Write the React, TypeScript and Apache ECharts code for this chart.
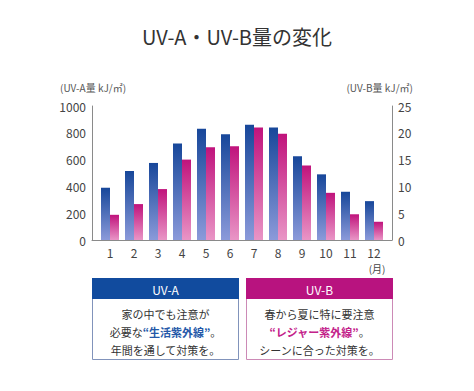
import React, { useEffect, useRef } from "react";
import * as echarts from "echarts";

const months = ["1", "2", "3", "4", "5", "6", "7", "8", "9", "10", "11", "12"];
const uvA = [390, 515, 575, 720, 830, 790, 860, 840, 625, 490, 360, 290];
const uvB = [4.7, 6.7, 9.5, 15.0, 17.3, 17.5, 21.0, 19.8, 13.9, 8.8, 4.8, 3.4];
const leftTicks = { min: 0, max: 1000, interval: 200 };
const rightTicks = { min: 0, max: 25, interval: 5 };

const FONT = "'Noto Sans CJK JP', 'Noto Sans', sans-serif";

export default function App() {
  const ref = useRef<HTMLDivElement>(null);
  useEffect(() => {
    if (!ref.current) return;
    const chart = echarts.init(ref.current, null, { renderer: "svg" });
    const axisLine = { show: true, lineStyle: { color: "#8a8a8a", width: 1 } };
    const axisLabel = { color: "#444", fontSize: 12, fontFamily: FONT };
    const blueGrad = new echarts.graphic.LinearGradient(0, 0, 0, 1, [
      { offset: 0, color: "#17479a" },
      { offset: 1, color: "#8b9ada" },
    ]);
    const pinkGrad = new echarts.graphic.LinearGradient(0, 0, 0, 1, [
      { offset: 0, color: "#c0137c" },
      { offset: 1, color: "#e995c6" },
    ]);
    const blue = "#114b9e";
    const pink = "#b8137f";
    const bodyStyle = (text: string, key: string, color: string) => ({
      text,
      fontSize: 11,
      lineHeight: 18,
      fill: "#333",
      fontFamily: FONT,
      align: "center",
      verticalAlign: "middle",
      rich: {
        [key]: { fill: color, fontSize: 11, lineHeight: 18, fontWeight: "bold", fontFamily: FONT },
      },
    });
    chart.setOption({
      animation: false,
      backgroundColor: "#fff",
      textStyle: { fontFamily: FONT },
      grid: [
        { left: 98, right: 88, top: 106, bottom: 151 },
        { left: 92, right: 82, top: 106, bottom: 151 },
      ],
      xAxis: [
        {
          type: "category",
          data: months,
          gridIndex: 0,
          axisLine: { show: false },
          axisTick: { show: false },
          axisLabel: { ...axisLabel, margin: 6 },
        },
        {
          type: "category",
          data: months,
          gridIndex: 1,
          axisLine,
          axisTick: { show: false },
          axisLabel: { show: false },
        },
      ],
      yAxis: [
        {
          type: "value",
          gridIndex: 0,
          ...leftTicks,
          offset: 6,
          axisLine,
          axisTick: { show: false },
          splitLine: { show: false },
          axisLabel: { ...axisLabel, margin: 6, formatter: (v: number) => String(v) },
        },
        {
          type: "value",
          gridIndex: 0,
          position: "right",
          ...rightTicks,
          offset: 6,
          axisLine,
          axisTick: { show: false },
          splitLine: { show: false },
          axisLabel: { ...axisLabel, margin: 6, formatter: (v: number) => String(v) },
        },
        {
          type: "value",
          gridIndex: 1,
          show: false,
          min: 0,
          max: 1,
        },
      ],
      series: [
        {
          type: "bar",
          name: "UV-A",
          data: uvA,
          xAxisIndex: 0,
          yAxisIndex: 0,
          barWidth: 9,
          barGap: "0%",
          itemStyle: { color: blueGrad },
        },
        {
          type: "bar",
          name: "UV-B",
          data: uvB,
          xAxisIndex: 0,
          yAxisIndex: 1,
          barWidth: 9,
          barGap: "0%",
          itemStyle: { color: pinkGrad },
        },
      ],
      graphic: [
        {
          type: "text",
          left: "center",
          top: 26,
          style: { text: "UV-A・UV-B量の変化", fontSize: 20, fill: "#333", fontFamily: FONT },
        },
        {
          type: "text",
          x: 60,
          y: 82,
          style: { text: "(UV-A量 kJ/㎡)", fontSize: 10, fill: "#555", fontFamily: FONT },
        },
        {
          type: "text",
          x: 413,
          y: 82,
          style: { text: "(UV-B量 kJ/㎡)", fontSize: 10, fill: "#555", fontFamily: FONT, align: "right" },
        },
        {
          type: "text",
          x: 377,
          y: 268,
          style: { text: "(月)", fontSize: 10, fill: "#444", fontFamily: FONT, align: "center", verticalAlign: "middle" },
        },
        // UV-A box
        {
          type: "rect",
          shape: { x: 92.5, y: 278.5, width: 146, height: 81 },
          style: { fill: "#fff", stroke: "#8193bb", lineWidth: 1 },
        },
        {
          type: "rect",
          shape: { x: 92, y: 278, width: 147, height: 21 },
          style: { fill: blue },
        },
        {
          type: "text",
          x: 165.5,
          y: 289,
          style: { text: "UV-A", fontSize: 12, fill: "#fff", fontFamily: FONT, align: "center", verticalAlign: "middle" },
        },
        {
          type: "text",
          x: 165.5,
          y: 331.5,
          style: bodyStyle("家の中でも注意が\n必要な{b|“生活紫外線”}。\n年間を通して対策を。", "b", "#2458a8"),
        },
        // UV-B box
        {
          type: "rect",
          shape: { x: 246.5, y: 278.5, width: 146, height: 81 },
          style: { fill: "#fff", stroke: "#cc8ab6", lineWidth: 1 },
        },
        {
          type: "rect",
          shape: { x: 246, y: 278, width: 147, height: 21 },
          style: { fill: pink },
        },
        {
          type: "text",
          x: 319.5,
          y: 289,
          style: { text: "UV-B", fontSize: 12, fill: "#fff", fontFamily: FONT, align: "center", verticalAlign: "middle" },
        },
        {
          type: "text",
          x: 319.5,
          y: 331.5,
          style: bodyStyle("春から夏に特に要注意\n{p|“レジャー紫外線”}。\nシーンに合った対策を。", "p", "#c3228a"),
        },
      ],
    });
    return () => chart.dispose();
  }, []);
  return (
    <div
      ref={ref}
      style={{ position: "absolute", left: 0, top: 0, width: 474, height: 391 }}
    />
  );
}
